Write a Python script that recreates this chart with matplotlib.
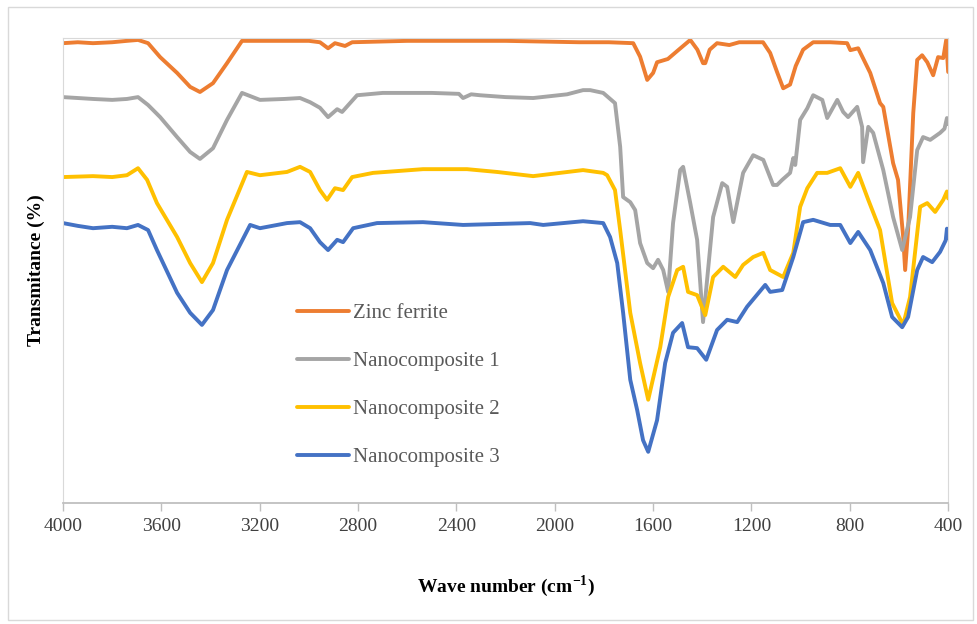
import matplotlib
matplotlib.use("Agg")
import matplotlib.pyplot as plt
from matplotlib.patches import Rectangle

# =========== FTIR spectra (wave number in cm-1, transmittance in a.u. 0-100) ===========
zinc_wn = [4000, 3940, 3878, 3800, 3740, 3695, 3654, 3605, 3536, 3483, 3443, 3390, 3333, 3272,
           3100, 3000, 2955, 2922, 2894, 2853, 2824, 2600, 2200, 1900, 1780, 1681, 1653, 1624,
           1600, 1584, 1540, 1498, 1460, 1449, 1420, 1397, 1388, 1370, 1340, 1290, 1250, 1153,
           1124, 1096, 1071, 1043, 1020, 990, 949, 880, 811, 798, 766, 717, 677, 664, 624, 604,
           583, 575, 563, 542, 526, 506, 485, 461, 441, 420, 408, 400]
zinc_t = [98.9, 99.1, 98.9, 99.1, 99.4, 99.6, 98.9, 95.9, 92.5, 89.5, 88.4, 90.3, 94.6, 99.4,
          99.4, 99.4, 99.1, 97.8, 98.9, 98.3, 99.1, 99.4, 99.4, 99.1, 99.1, 98.9, 96.0, 91.0,
          92.5, 94.8, 95.5, 97.4, 99.1, 99.6, 97.5, 94.6, 94.6, 97.5, 98.9, 98.5, 99.1, 99.1,
          96.8, 92.7, 89.2, 90.0, 94.0, 97.5, 99.1, 99.1, 98.9, 97.4, 97.8, 92.5, 86.0, 85.2,
          73.1, 69.5, 57.2, 50.1, 58.7, 83.9, 95.3, 96.3, 94.8, 92.0, 95.9, 95.7, 99.6, 92.7]

nc1_wn = [4000, 3878, 3800, 3740, 3695, 3654, 3605, 3536, 3483, 3443, 3390, 3333, 3272, 3199,
          3100, 3036, 2995, 2955, 2922, 2885, 2865, 2804, 2700, 2500, 2390, 2373, 2340, 2304,
          2200, 2088, 1950, 1885, 1856, 1803, 1755, 1734, 1722, 1693, 1673, 1653, 1624, 1600,
          1580, 1559, 1539, 1519, 1490, 1478, 1449, 1421, 1397, 1356, 1319, 1299, 1274, 1234,
          1193, 1152, 1112, 1096, 1075, 1043, 1030, 1022, 1002, 973, 949, 912, 892, 851, 827,
          807, 770, 750, 746, 725, 705, 664, 624, 587, 555, 526, 502, 473, 433, 415, 405, 400]
nc1_t = [87.3, 86.9, 86.7, 86.9, 87.3, 85.6, 83.0, 78.7, 75.5, 74.0, 76.3, 82.4, 88.2, 86.7,
         86.9, 87.1, 86.2, 85.0, 83.0, 84.7, 84.1, 87.7, 88.2, 88.2, 88.0, 87.1, 87.9, 87.7,
         87.3, 87.1, 87.9, 88.8, 88.8, 88.2, 86.0, 76.6, 65.8, 64.7, 63.0, 55.9, 51.6, 50.5,
         52.3, 50.1, 45.4, 60.2, 71.6, 72.3, 64.5, 56.6, 38.9, 61.5, 68.8, 68.0, 60.4, 71.0,
         74.8, 73.8, 68.4, 68.4, 69.5, 71.0, 74.2, 72.7, 82.4, 84.9, 87.7, 86.7, 82.8, 86.7, 84.1,
         83.0, 85.2, 80.9, 73.3, 80.9, 79.6, 71.6, 61.5, 54.4, 61.5, 75.9, 78.7, 78.1, 79.6,
         80.5, 82.8, 81.5]

nc2_wn = [4000, 3878, 3800, 3740, 3695, 3658, 3618, 3536, 3483, 3435, 3390, 3333, 3252, 3199,
          3089, 3036, 2995, 2955, 2926, 2894, 2861, 2824, 2739, 2536, 2357, 2235, 2088, 1885,
          1803, 1787, 1755, 1734, 1693, 1653, 1620, 1571, 1539, 1502, 1478, 1458, 1421, 1388,
          1356, 1315, 1266, 1234, 1193, 1152, 1124, 1071, 1030, 1002, 973, 933, 892, 839, 798,
          766, 725, 677, 628, 583, 555, 514, 485, 453, 420, 405, 400]
nc2_t = [70.1, 70.3, 70.1, 70.5, 72.0, 69.5, 64.5, 57.2, 51.6, 47.5, 51.6, 60.9, 71.2, 70.5,
         71.2, 72.3, 71.2, 67.3, 65.2, 67.7, 67.3, 70.1, 71.0, 71.8, 71.8, 71.2, 70.3, 71.6,
         71.0, 70.5, 67.3, 58.7, 40.9, 30.1, 22.2, 33.5, 44.3, 50.1, 50.8, 45.4, 44.7, 40.4,
         48.6, 50.8, 48.6, 51.2, 52.9, 53.8, 50.1, 48.6, 53.8, 63.7, 67.7, 71.0, 71.0, 72.0,
         68.0, 71.0, 65.2, 58.7, 43.0, 38.3, 44.3, 63.7, 64.5, 62.6, 65.2, 67.0, 65.5]

nc3_wn = [4000, 3940, 3878, 3800, 3740, 3695, 3654, 3618, 3536, 3483, 3435, 3390, 3333, 3239,
          3199, 3089, 3036, 2995, 2955, 2922, 2885, 2861, 2820, 2723, 2536, 2373, 2100, 2047,
          1885, 1803, 1775, 1746, 1722, 1693, 1665, 1641, 1620, 1584, 1551, 1519, 1482, 1458,
          1421, 1384, 1340, 1299, 1258, 1218, 1144, 1124, 1075, 1030, 990, 949, 880, 839, 798,
          766, 717, 664, 628, 587, 563, 526, 502, 465, 433, 410, 405, 400]
nc3_t = [60.2, 59.6, 59.1, 59.4, 59.1, 59.8, 58.7, 54.4, 45.2, 40.9, 38.3, 41.5, 50.1, 59.8,
         59.1, 60.2, 60.4, 59.1, 56.1, 54.4, 56.6, 56.1, 59.1, 60.2, 60.4, 59.8, 60.2, 59.8,
         60.6, 60.2, 57.2, 51.6, 40.9, 26.5, 20.0, 13.5, 11.0, 17.8, 30.1, 36.6, 38.7, 33.5,
         33.3, 30.8, 37.2, 39.4, 38.9, 42.2, 46.9, 45.4, 45.8, 52.9, 60.4, 60.9, 59.8, 59.8,
         55.9, 58.3, 54.4, 47.3, 40.0, 37.8, 40.0, 50.1, 52.9, 51.8, 54.0, 56.5, 59.0, 57.0]

labels = ["Zinc ferrite", "Nanocomposite 1", "Nanocomposite 2", "Nanocomposite 3"]
colors = ["#ED7D31", "#A5A5A5", "#FFC000", "#4472C4"]
x_ticks = [4000, 3600, 3200, 2800, 2400, 2000, 1600, 1200, 800, 400]

plt.rcParams["font.family"] = ["Liberation Serif", "DejaVu Serif"]

fig = plt.figure(figsize=(9.77, 6.24), dpi=100)
ax = fig.add_axes([0.0645, 0.194, 0.906, 0.745])

series = [(zinc_wn, zinc_t), (nc1_wn, nc1_t), (nc2_wn, nc2_t), (nc3_wn, nc3_t)]
for (wn, t), lab, col in zip(series, labels, colors):
    ax.plot(wn, t, color=col, lw=2.8, label=lab, solid_joinstyle="round", solid_capstyle="round")

ax.set_xlim(4000, 400)
ax.set_ylim(0, 100)
ax.set_xticks(x_ticks)
ax.set_xticklabels([str(v) for v in x_ticks], fontsize=14, color="#404040")
ax.set_yticks([])
ax.tick_params(axis="x", length=6, width=1, color="#bfbfbf", pad=5)

for side in ["top", "right", "left"]:
    ax.spines[side].set_color("#d9d9d9")
ax.spines["bottom"].set_color("#bfbfbf")
ax.spines["bottom"].set_linewidth(1.3)

ax.set_xlabel("Wave number (cm$^{\\mathregular{-1}}$)", fontsize=14, fontweight="bold")
ax.xaxis.set_label_coords(0.5, -0.152)
ax.set_ylabel("Transmitance (%)", fontsize=14, fontweight="bold")
ax.yaxis.set_label_coords(-0.020, 0.5)

leg = ax.legend(loc="upper left", bbox_to_anchor=(0.304, 0.513), bbox_transform=fig.transFigure,
                frameon=False, fontsize=15, handlelength=2.5, handletextpad=0.2,
                labelspacing=1.36, borderpad=0, borderaxespad=0)
for txt in leg.get_texts():
    txt.set_color("#595959")

# outer frame of the figure
fig.patches.append(Rectangle((0.008, 0.006), 0.988, 0.983, transform=fig.transFigure,
                             fill=False, edgecolor="#d9d9d9", lw=1))

fig.savefig("out.png", dpi=100)
